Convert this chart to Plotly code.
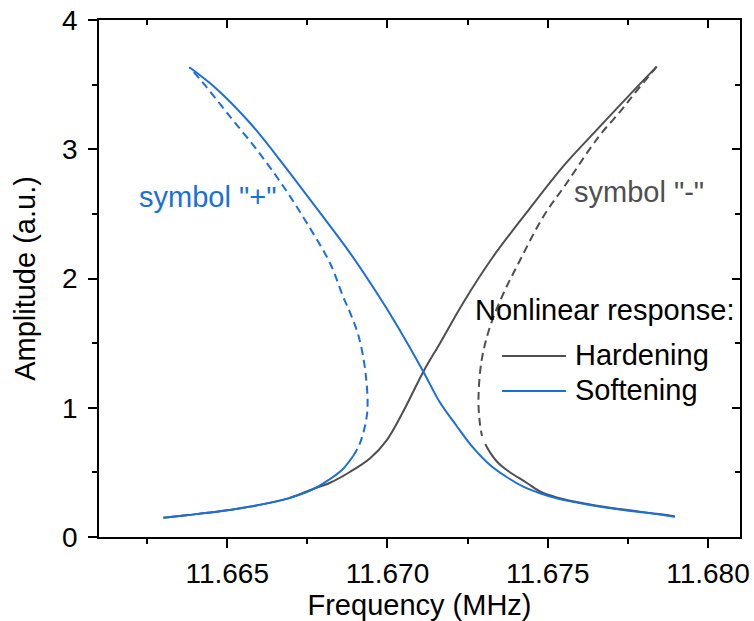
import plotly.graph_objects as go

# ---- data (frequency in MHz, amplitude in a.u.) ----
soft_upper_x = [11.66382, 11.66468, 11.66572, 11.66676, 11.66780, 11.66884, 11.66977, 11.67029,
                11.67112, 11.67164, 11.67216, 11.67268, 11.67320, 11.67372, 11.67424, 11.67476,
                11.67528, 11.67632, 11.67736, 11.67840, 11.67897]
soft_upper_y = [3.634, 3.465, 3.201, 2.880, 2.540, 2.195, 1.849, 1.640,
                1.279, 1.040, 0.859, 0.689, 0.557, 0.464, 0.389, 0.338,
                0.299, 0.248, 0.209, 0.178, 0.157]

soft_lower_x = [11.66301, 11.66379, 11.66483, 11.66587, 11.66691, 11.66764, 11.66816, 11.66858, 11.66893]
soft_lower_y = [0.149, 0.170, 0.201, 0.242, 0.299, 0.364, 0.441, 0.518, 0.627]

soft_unstable_x = [11.66893, 11.66912, 11.66927, 11.66936, 11.66938, 11.66934, 11.66926, 11.66909,
                   11.66884, 11.66862, 11.66821, 11.66749, 11.66676, 11.66593, 11.66509, 11.66426, 11.66382]
soft_unstable_y = [0.627, 0.712, 0.828, 0.944, 1.060, 1.215, 1.369, 1.563,
                   1.733, 1.857, 2.118, 2.427, 2.710, 2.994, 3.252, 3.510, 3.634]

hard_upper_x = [11.66301, 11.66379, 11.66483, 11.66587, 11.66691, 11.66764, 11.66821, 11.66884,
                11.66946, 11.66998, 11.67050, 11.67112, 11.67164, 11.67237, 11.67330, 11.67445,
                11.67549, 11.67653, 11.67757, 11.67840]
hard_upper_y = [0.149, 0.170, 0.201, 0.242, 0.299, 0.368, 0.420, 0.505,
                0.609, 0.750, 0.975, 1.279, 1.500, 1.815, 2.170, 2.545,
                2.870, 3.150, 3.425, 3.639]

hard_unstable_x = [11.67840, 11.67814, 11.67767, 11.67726, 11.67673, 11.67632, 11.67559, 11.67486,
                   11.67414, 11.67362, 11.67320, 11.67294, 11.67284, 11.67289, 11.67295]
hard_unstable_y = [3.639, 3.561, 3.420, 3.291, 3.140, 3.005, 2.737, 2.478,
                   2.143, 1.885, 1.627, 1.369, 1.060, 0.867, 0.781]

hard_lower_x = [11.67305, 11.67320, 11.67340, 11.67358, 11.67380, 11.67435, 11.67476, 11.67528,
                11.67632, 11.67736, 11.67840, 11.67897]
hard_lower_y = [0.720, 0.655, 0.588, 0.545, 0.505, 0.418, 0.352, 0.306,
                0.251, 0.212, 0.179, 0.159]

x_ticks = [11.665, 11.670, 11.675, 11.680]
x_tick_labels = ["11.665", "11.670", "11.675", "11.680"]
y_ticks = [0, 1, 2, 3, 4]
y_tick_labels = ["0", "1", "2", "3", "4"]

legend_title = "Nonlinear response:"
series_names = ["Hardening", "Softening"]

# ---- styles ----
BLUE = "#1b6fdc"
GREY = "#4f4f4f"
FONT = "Liberation Sans, Arial, sans-serif"
LW = 2.0
DASH = "8px,5px"
FS = 29
TFS = 28

fig = go.Figure()

def curve(xs, ys, col, dash=None):
    fig.add_trace(go.Scatter(x=xs, y=ys, mode="lines",
                             line=dict(color=col, width=LW, dash=dash, shape="spline", smoothing=1.0),
                             showlegend=False, hoverinfo="skip"))

# hardening (grey)
curve(hard_upper_x, hard_upper_y, GREY)
curve(hard_unstable_x, hard_unstable_y, GREY, DASH)
curve(hard_lower_x, hard_lower_y, GREY)
# softening (blue)
curve(soft_lower_x, soft_lower_y, BLUE)
curve(soft_unstable_x, soft_unstable_y, BLUE, DASH)
curve(soft_upper_x, soft_upper_y, BLUE)

axis_common = dict(showgrid=False, zeroline=False, linecolor="black", linewidth=1.6,
                   tickcolor="black", tickwidth=1.6, automargin=False)

fig.update_layout(
    width=754, height=621,
    margin=dict(l=99, r=14, t=20, b=84),
    paper_bgcolor="white", plot_bgcolor="white",
    font=dict(family=FONT, color="black", size=FS),
    showlegend=False,
    xaxis=dict(range=[11.661, 11.681], tickvals=x_ticks, ticktext=x_tick_labels,
               ticks="outside", ticklen=9, tickfont=dict(size=TFS), ticklabelstandoff=2,
               ticklabeloverflow="allow", showline=True, mirror=True,
               minor=dict(dtick=0.0025, tick0=11.665, ticks="outside", ticklen=5,
                          tickcolor="black", tickwidth=1.6),
               title=dict(text="Frequency (MHz)", font=dict(size=FS), standoff=4),
               **axis_common),
    yaxis=dict(range=[0, 4], tickvals=y_ticks, ticktext=y_tick_labels,
               ticks="outside", ticklen=9, tickfont=dict(size=TFS), ticklabelstandoff=5,
               ticklabeloverflow="allow", showline=True, mirror=True,
               minor=dict(dtick=0.5, tick0=0, ticks="outside", ticklen=5,
                          tickcolor="black", tickwidth=1.6),
               title=dict(text="Amplitude (a.u.)", font=dict(size=FS), standoff=18),
               **axis_common),
    xaxis2=dict(overlaying="x", matches="x", side="top", anchor="y", range=[11.661, 11.681],
                tickvals=x_ticks, showticklabels=False, ticks="inside", ticklen=8, showline=False,
                minor=dict(dtick=0.0025, tick0=11.665, ticks="inside", ticklen=5,
                           tickcolor="black", tickwidth=1.6),
                **axis_common),
    yaxis2=dict(overlaying="y", matches="y", side="right", anchor="x", range=[0, 4],
                tickvals=y_ticks, showticklabels=False, ticks="inside", ticklen=8, showline=False,
                minor=dict(dtick=0.5, tick0=0, ticks="inside", ticklen=5,
                           tickcolor="black", tickwidth=1.6),
                **axis_common),
)

# invisible trace so the mirrored tick axes are drawn
fig.add_trace(go.Scatter(x=[None], y=[None], xaxis="x2", yaxis="y2", showlegend=False,
                         hoverinfo="skip"))

# text labels
fig.add_annotation(x=11.66439, y=2.628, xref="x", yref="y", text='symbol "+"', showarrow=False,
                   font=dict(color=BLUE, size=FS, family=FONT), xanchor="center", yanchor="middle")
fig.add_annotation(x=11.67786, y=2.672, xref="x", yref="y", text='symbol "-"', showarrow=False,
                   font=dict(color=GREY, size=FS, family=FONT), xanchor="center", yanchor="middle")

# legend (text + line samples in paper coordinates; plot area spans 99..740 x 20..537)
def px_x(p):
    return (p - 99) / (740 - 99)

def px_y(p):
    return (537 - p) / (537 - 20)

fig.add_annotation(x=px_x(473), y=px_y(310), xref="paper", yref="paper", text=legend_title,
                   showarrow=False, xanchor="left", yanchor="middle",
                   font=dict(size=FS, color="black", family=FONT))
for name, col, ypx in [(series_names[0], GREY, 356), (series_names[1], BLUE, 391)]:
    fig.add_shape(type="line", xref="paper", yref="paper", x0=px_x(502), x1=px_x(566),
                  y0=px_y(ypx), y1=px_y(ypx), line=dict(color=col, width=LW))
    fig.add_annotation(x=px_x(573), y=px_y(ypx - 1), xref="paper", yref="paper", text=name,
                       showarrow=False, xanchor="left", yanchor="middle",
                       font=dict(size=FS, color="black", family=FONT))

# remove the default page margin so the 754x621 figure fills the window exactly
fig.write_html("out.html", config={"displayModeBar": False},
               post_script="document.body.style.margin='0';document.body.style.overflow='hidden';")
